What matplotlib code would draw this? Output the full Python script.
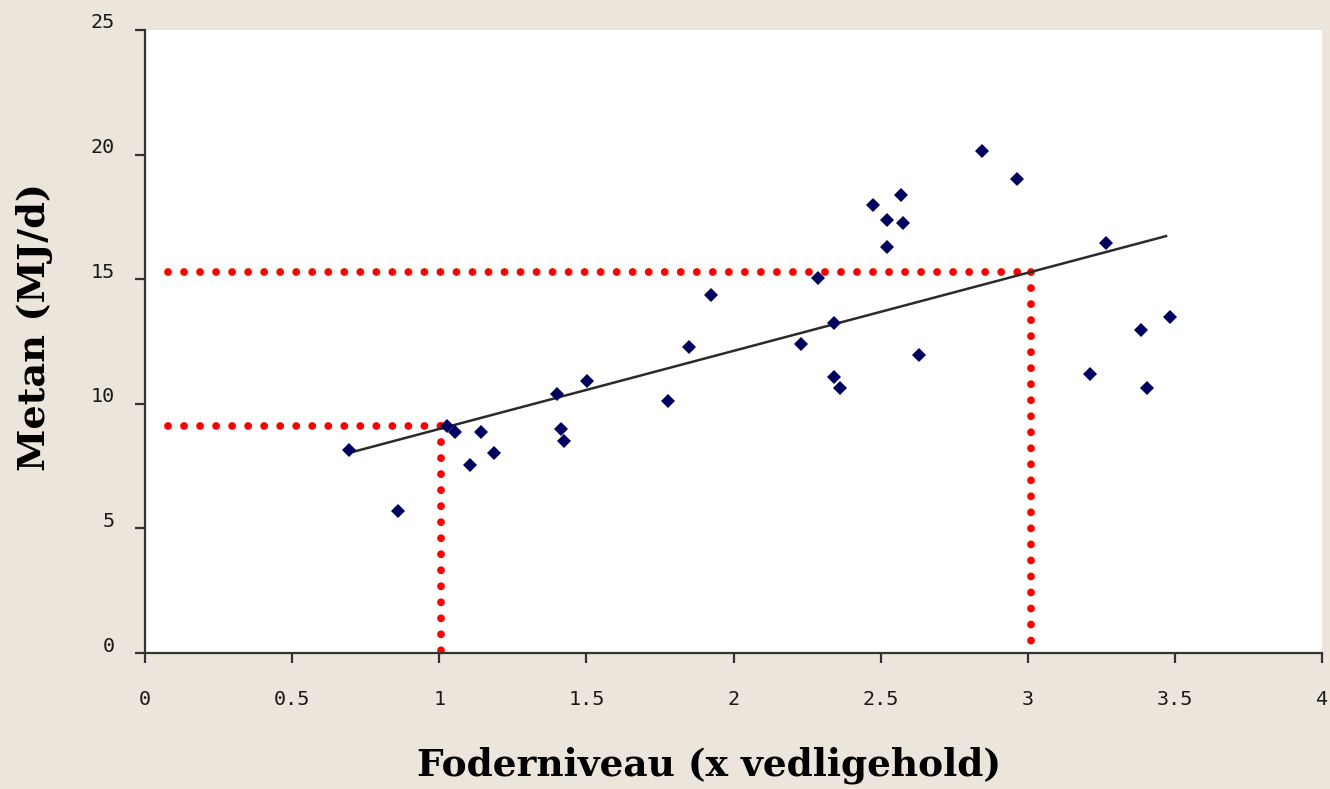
import matplotlib
matplotlib.use("Agg")
import matplotlib.pyplot as plt
import matplotlib.transforms as mtransforms

# --- data ---
feed_level = [0.693, 0.860, 1.026, 1.054, 1.104, 1.142, 1.186, 1.400, 1.414, 1.424,
              1.502, 1.777, 1.849, 1.924, 2.229, 2.287, 2.342, 2.342, 2.362, 2.474,
              2.522, 2.522, 2.569, 2.576, 2.630, 2.845, 2.963, 3.212, 3.266, 3.385,
              3.405, 3.483]
methane = [8.15, 5.70, 9.11, 8.87, 7.54, 8.87, 8.03, 10.39, 8.99, 8.51,
           10.91, 10.11, 12.28, 14.37, 12.40, 15.05, 13.24, 11.08, 10.63, 17.98,
           17.38, 16.29, 18.38, 17.26, 11.96, 20.14, 19.02, 11.20, 16.45, 12.96,
           10.63, 13.48]

fit_x = [0.70, 3.47]
fit_y = [8.05, 16.73]

guide_x = [1.005, 3.012]
guide_y = [9.11, 15.29]
guide_start = 0.078

x_ticks = [0, 0.5, 1, 1.5, 2, 2.5, 3, 3.5, 4]
x_tick_labels = ["0", "0.5", "1", "1.5", "2", "2.5", "3", "3.5", "4"]
y_ticks = [0, 5, 10, 15, 20, 25]
y_tick_labels = ["0", "5", "10", "15", "20", "25"]

x_label = "Foderniveau (x vedligehold)"
y_label = "Metan (MJ/d)"

# --- figure ---
W, H = 1330, 789
fig = plt.figure(figsize=(W / 100, H / 100), dpi=100, facecolor="#ebe5db")
ax = fig.add_axes([145 / W, 1 - 653 / H, 1177 / W, 623 / H])
ax.set_facecolor("white")
ax.set_xlim(0, 4)
ax.set_ylim(0, 25)

for s in ["top", "right"]:
    ax.spines[s].set_visible(False)
for s in ["left", "bottom"]:
    ax.spines[s].set_color("#333333")
    ax.spines[s].set_linewidth(1.6)

# red guide lines
dot_style = dict(color="#ff0000", linewidth=5.6, linestyle=(0, (0.01, 2.05)),
                 dash_capstyle="round", clip_on=False, zorder=2)
for gx, gy in zip(guide_x, guide_y):
    ax.plot([guide_start, gx], [gy, gy], **dot_style)
    ax.plot([gx, gx], [gy, 0], **dot_style)

# regression line
ax.plot(fit_x, fit_y, color="#2a2a2a", linewidth=1.8, zorder=3)

# points
ax.plot(feed_level, methane, linestyle="none", marker="D", markersize=7.2,
        color="#00005e", markeredgewidth=0, zorder=4, clip_on=False)

ax.set_xticks(x_ticks)
ax.set_xticklabels(x_tick_labels)
ax.set_yticks(y_ticks)
ax.set_yticklabels(y_tick_labels)

for lab in ax.get_xticklabels() + ax.get_yticklabels():
    lab.set_fontfamily("DejaVu Sans Mono")
    lab.set_fontsize(14.5)
    lab.set_color("#1a1a1a")

ax.tick_params(axis="both", direction="out", length=7.5, width=1.6, color="#333333")
ax.tick_params(axis="x", pad=19)
ax.tick_params(axis="y", pad=14)

# shift y tick labels upward as in reference
offset = mtransforms.ScaledTranslation(0, 9 / 100, fig.dpi_scale_trans)
for lab in ax.get_yticklabels():
    lab.set_transform(lab.get_transform() + offset)

fig.text(709 / W, 1 - 765 / H, x_label, ha="center", va="center",
         fontfamily="DejaVu Serif", fontweight="bold", fontsize=27, color="black")
fig.text(35 / W, 1 - 327 / H, y_label, ha="center", va="center", rotation=90,
         fontfamily="DejaVu Serif", fontweight="bold", fontsize=27.5, color="black")

fig.savefig("out.png", dpi=100, facecolor=fig.get_facecolor())
